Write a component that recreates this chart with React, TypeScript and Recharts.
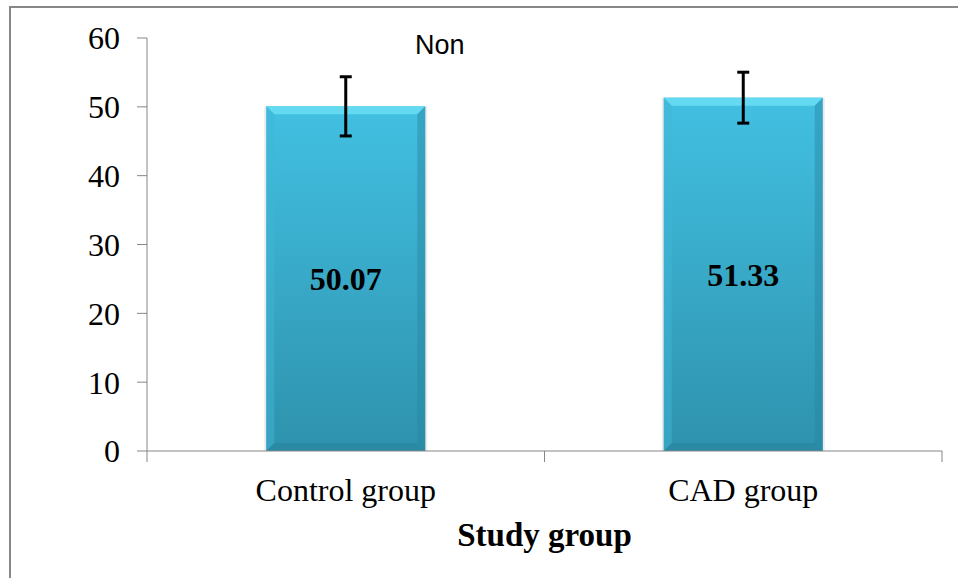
import { BarChart, Bar, XAxis, YAxis, ErrorBar, LabelList } from "recharts"

const groups = ["Control group", "CAD group"]
const means = [50.07, 51.33]
const sds = [4.3, 3.7]
const yTicks = [0, 10, 20, 30, 40, 50, 60]

const data = groups.map((g, i) => ({ group: g, value: means[i], err: sds[i] }))

const W = 958
const H = 578
const M = { top: 38, right: 16, left: 0, bottom: 0 }
const Y_W = 147
const X_H = 127
const AXIS = "#868686"
const SERIF = "'Liberation Serif', 'Times New Roman', serif"
const band = (W - Y_W - M.right) / groups.length

function BevelBar(props: any) {
  const { x, y, width: w, height: h } = props
  if (!h || h <= 0) return null
  const b = 8
  return (
    <g>
      <rect x={x - 2} y={y} width={w + 4} height={h} fill="#000" opacity={0.08} />
      <rect x={x} y={y} width={w} height={h} fill="url(#barGrad)" />
      <polygon points={`${x},${y} ${x + w},${y} ${x + w - b},${y + b} ${x + b},${y + b}`} fill="#63DAF1" />
      <polygon points={`${x},${y} ${x + b},${y + b} ${x + b},${y + h - b} ${x},${y + h}`} fill="#3FB5D5" opacity={0.5} />
      <polygon points={`${x + w},${y} ${x + w - b},${y + b} ${x + w - b},${y + h - b} ${x + w},${y + h}`} fill="#2784A0" opacity={0.45} />
      <polygon points={`${x},${y + h} ${x + b},${y + h - b} ${x + w - b},${y + h - b} ${x + w},${y + h}`} fill="#25809A" opacity={0.45} />
    </g>
  )
}

function GroupTick(props: any) {
  const { x, y, payload } = props
  const top = y - 2
  return (
    <g>
      <line x1={x - band / 2} y1={top} x2={x - band / 2} y2={top + 11} stroke={AXIS} />
      <line x1={x + band / 2} y1={top} x2={x + band / 2} y2={top + 11} stroke={AXIS} />
      <text x={x} y={top + 39} textAnchor="middle" dominantBaseline="central" fontFamily={SERIF} fontSize={32} fill="#000">
        {payload.value}
      </text>
    </g>
  )
}

export default function App() {
  return (
    <div style={{ position: "absolute", left: 0, top: 0, width: W, height: H, background: "#fff", overflow: "hidden" }}>
      <div style={{ position: "absolute", left: 9, top: 6, width: W, height: H, border: "2px solid #888", boxSizing: "border-box" }} />
      <div style={{ position: "absolute", left: 415, top: 30, fontFamily: "'Liberation Sans', Arial, sans-serif", fontSize: 27, color: "#000" }}>
        Non
      </div>
      <div style={{ position: "absolute", left: 0, top: 0 }}>
        <BarChart width={W} height={H} data={data} margin={M} barCategoryGap="30%">
          <defs>
            <linearGradient id="barGrad" x1="0" y1="0" x2="0" y2="1">
              <stop offset="0%" stopColor="#42C0E2" />
              <stop offset="100%" stopColor="#2E92AD" />
            </linearGradient>
          </defs>
          <XAxis
            dataKey="group"
            height={X_H}
            stroke={AXIS}
            tickLine={false}
            tickSize={0}
            tick={<GroupTick />}
            label={{ value: "Study group", position: "insideBottom", offset: 32, style: { fontFamily: SERIF, fontSize: 33, fontWeight: "bold", fill: "#000" } }}
          />
          <YAxis
            width={Y_W}
            domain={[0, 60]}
            ticks={yTicks}
            stroke={AXIS}
            tickSize={10}
            tickMargin={17}
            tick={{ fontFamily: SERIF, fontSize: 32, fill: "#000" }}
          />
          <Bar dataKey="value" shape={<BevelBar />} isAnimationActive={false}>
            <ErrorBar dataKey="err" width={6} strokeWidth={3} stroke="#000" />
            <LabelList dataKey="value" position="center" formatter={(v: any) => Number(v).toFixed(2)} style={{ fontFamily: SERIF, fontSize: 32, fontWeight: "bold", fill: "#000" }} />
          </Bar>
        </BarChart>
      </div>
    </div>
  )
}
